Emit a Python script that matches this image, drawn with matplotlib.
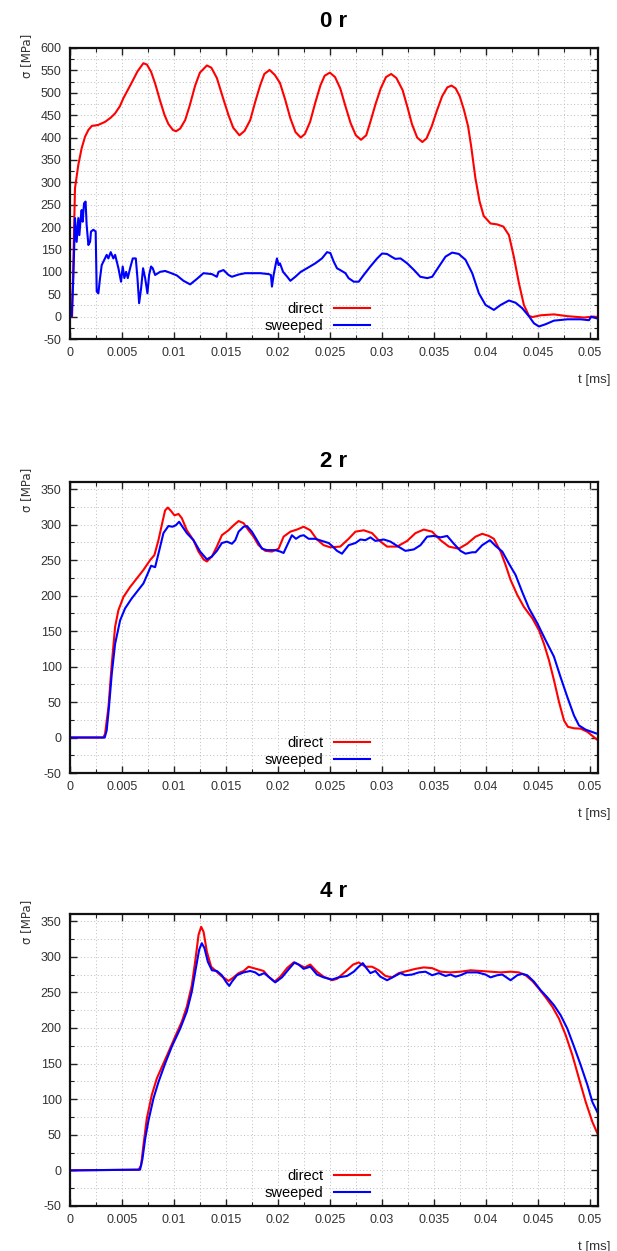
"""Stress history sigma(t) at 0 r, 2 r and 4 r: direct vs sweeped mesh."""
import matplotlib
matplotlib.use("Agg")
import matplotlib.pyplot as plt
import numpy as np
from matplotlib.ticker import FixedLocator, MultipleLocator

plt.rcParams["font.family"] = ["Liberation Sans", "DejaVu Sans"]
plt.rcParams["axes.unicode_minus"] = False

TITLES = ["0 r", "2 r", "4 r"]
SERIES = ["direct", "sweeped"]
X_TICKS = [0, 0.005, 0.01, 0.015, 0.02, 0.025, 0.03, 0.035, 0.04, 0.045, 0.05]
X_LABELS = ["0", "0.005", "0.01", "0.015", "0.02", "0.025", "0.03", "0.035",
            "0.04", "0.045", "0.05"]
Y_TOPS = [600, 350, 350]

# (t [ms], sigma [MPa])
direct_0 = np.array([
    (0, 0), (0.0002, 0), (0.00035, 150), (0.00048, 287), (0.0008, 339),
    (0.00112, 376), (0.00145, 402), (0.00177, 417), (0.0021, 426), (0.0027, 428),
    (0.00337, 435), (0.0039, 444), (0.00434, 454), (0.0048, 470), (0.00514, 488),
    (0.0059, 521), (0.0065, 548), (0.00706, 566), (0.0074, 563), (0.0078, 547),
    (0.0082, 520), (0.00867, 482), (0.0091, 450), (0.00947, 430), (0.0099, 417),
    (0.0102, 414), (0.0106, 420), (0.01108, 439), (0.0115, 470), (0.01204, 516),
    (0.0125, 545), (0.01317, 561), (0.0136, 556), (0.01413, 533), (0.0147, 490),
    (0.01525, 450), (0.0157, 422), (0.0163, 405), (0.0168, 415), (0.01734, 439),
    (0.0178, 478), (0.0183, 517), (0.0187, 542), (0.0192, 551), (0.0197, 540),
    (0.0202, 522), (0.0207, 485), (0.0212, 443), (0.0217, 412), (0.0222, 400),
    (0.0226, 408), (0.0231, 435), (0.0236, 478), (0.0241, 517), (0.0245, 538),
    (0.025, 545), (0.0255, 535), (0.026, 510), (0.0265, 470), (0.027, 432),
    (0.0275, 405), (0.028, 395), (0.0285, 405), (0.0289, 435), (0.0294, 475),
    (0.0299, 510), (0.0304, 535), (0.0309, 542), (0.0314, 533), (0.032, 506),
    (0.0325, 465), (0.0329, 430), (0.0334, 400), (0.0339, 390), (0.0343, 398),
    (0.0348, 425), (0.0353, 460), (0.0358, 492), (0.0363, 512), (0.0367, 516),
    (0.0371, 510), (0.0375, 492), (0.0379, 462), (0.0383, 425), (0.0386, 380),
    (0.039, 310), (0.0394, 258), (0.0398, 225), (0.04046, 208), (0.0411, 206),
    (0.0417, 201), (0.04223, 182), (0.0427, 134), (0.0432, 74), (0.04367, 26),
    (0.04415, 2), (0.04448, -1), (0.0453, 3), (0.04656, 5), (0.04785, 1),
    (0.04945, -2), (0.0504, 0), (0.0508, -1),
])
sweeped_0 = np.array([
    (0, 0), (0.00016, 0), (0.00032, 86), (0.00048, 220), (0.00064, 167),
    (0.0008, 220), (0.0009, 182), (0.00103, 220), (0.00112, 238), (0.00122, 212),
    (0.00135, 253), (0.0015, 257), (0.0016, 205), (0.00177, 160), (0.00193, 167),
    (0.00202, 190), (0.00225, 194), (0.00247, 190), (0.00257, 56), (0.00273, 52),
    (0.00289, 86), (0.00305, 115), (0.0033, 127), (0.00353, 138), (0.00369, 130),
    (0.00392, 144), (0.00417, 130), (0.00434, 138), (0.00466, 108), (0.00491, 78),
    (0.00507, 112), (0.00523, 86), (0.0054, 100), (0.00556, 86), (0.00578, 108),
    (0.00604, 130), (0.00633, 130), (0.00649, 86), (0.00665, 30), (0.00684, 63),
    (0.00703, 108), (0.00723, 86), (0.00745, 52), (0.00761, 93), (0.0078, 112),
    (0.00796, 108), (0.00819, 93), (0.00867, 100), (0.00915, 102), (0.00963, 98),
    (0.01028, 92), (0.01092, 80), (0.01156, 72), (0.0122, 84), (0.01284, 97),
    (0.01365, 95), (0.01413, 89), (0.01429, 100), (0.01477, 104), (0.01525, 93),
    (0.01558, 89), (0.01622, 94), (0.01686, 97), (0.01734, 97), (0.0183, 97),
    (0.0191, 95), (0.01933, 93), (0.01943, 67), (0.01959, 93), (0.01981, 119),
    (0.01991, 130), (0.02007, 115), (0.0202, 119), (0.0205, 100), (0.0209, 89),
    (0.0212, 80), (0.02168, 89), (0.0222, 100), (0.0228, 108), (0.0236, 119),
    (0.02424, 130), (0.02473, 144), (0.02505, 142), (0.02537, 123), (0.02569, 108),
    (0.026, 104), (0.0265, 97), (0.0268, 86), (0.0273, 78), (0.02778, 78),
    (0.02826, 93), (0.0289, 112), (0.02955, 130), (0.03003, 141), (0.0305, 140),
    (0.03099, 133), (0.0313, 129), (0.0318, 130), (0.03244, 119), (0.0331, 104),
    (0.0337, 89), (0.03437, 86), (0.03485, 89), (0.0355, 112), (0.03613, 134),
    (0.03677, 143), (0.0374, 140), (0.03805, 127), (0.0387, 97), (0.03934, 52),
    (0.03998, 26), (0.04078, 15), (0.04143, 26), (0.04223, 36), (0.04287, 31),
    (0.0435, 19), (0.04415, 1), (0.04464, -15), (0.04512, -22), (0.04576, -17),
    (0.04656, -9), (0.04785, -6), (0.04913, -6), (0.04993, -8), (0.05016, 0),
    (0.0504, -2), (0.0507, -4),
])

direct_2 = np.array([
    (0, 0), (0.0032, 0), (0.00337, 5), (0.0037, 43), (0.00402, 104),
    (0.00434, 156), (0.00465, 179), (0.00514, 198), (0.00578, 212), (0.00642, 224),
    (0.00706, 236), (0.00771, 250), (0.00812, 257), (0.00851, 278), (0.00893, 306),
    (0.00915, 320), (0.00941, 324), (0.00973, 319), (0.01005, 313), (0.01044, 315),
    (0.01076, 309), (0.01124, 292), (0.01188, 278), (0.01236, 262), (0.01285, 251),
    (0.01317, 248), (0.01365, 255), (0.01413, 269), (0.01461, 285), (0.01525, 292),
    (0.01574, 299), (0.01622, 305), (0.0167, 302), (0.01718, 292), (0.01766, 283),
    (0.01814, 271), (0.01879, 263), (0.01943, 262), (0.02007, 266), (0.02055, 283),
    (0.0212, 290), (0.02184, 293), (0.02248, 297), (0.02312, 292), (0.02376, 279),
    (0.0244, 271), (0.02505, 268), (0.026, 269), (0.02681, 280), (0.02746, 290),
    (0.02826, 292), (0.02906, 288), (0.0297, 278), (0.03051, 269), (0.03147, 269),
    (0.03244, 277), (0.03324, 288), (0.03404, 293), (0.03484, 290), (0.03565, 278),
    (0.03645, 269), (0.0374, 266), (0.03821, 273), (0.03902, 283), (0.03966, 287),
    (0.0403, 284), (0.04078, 280), (0.04143, 262), (0.04191, 243), (0.04239, 222),
    (0.04303, 201), (0.04367, 184), (0.04448, 168), (0.04512, 151), (0.0456, 132),
    (0.04608, 109), (0.04656, 81), (0.04705, 50), (0.04753, 24), (0.04791, 15),
    (0.04849, 13), (0.04913, 12.5), (0.04978, 8), (0.05058, -1.5), (0.0508, -4),
])
sweeped_2 = np.array([
    (0, 0), (0.00334, 0), (0.00353, 10), (0.00375, 43), (0.00402, 90),
    (0.00434, 132), (0.00482, 165), (0.0053, 182), (0.00594, 196), (0.00658, 208),
    (0.00706, 217), (0.00748, 231), (0.0078, 242), (0.00819, 240), (0.00851, 259),
    (0.00899, 288), (0.00947, 298), (0.00986, 297), (0.01018, 299), (0.0105, 304),
    (0.01082, 297), (0.01124, 288), (0.01188, 278), (0.01252, 262), (0.01317, 251),
    (0.01365, 255), (0.01413, 263), (0.01461, 274), (0.0151, 276), (0.01558, 273),
    (0.0159, 278), (0.01622, 290), (0.0167, 297), (0.01702, 298), (0.0175, 290),
    (0.01799, 278), (0.01847, 266), (0.01895, 264), (0.01975, 264), (0.02023, 262),
    (0.02055, 260), (0.02096, 273), (0.02135, 285), (0.02174, 280), (0.02216, 284),
    (0.02248, 285), (0.02296, 280), (0.0236, 280), (0.02424, 277), (0.02489, 274),
    (0.02521, 270), (0.02569, 263), (0.02617, 259), (0.02681, 271), (0.02746, 274),
    (0.02794, 279), (0.02842, 278), (0.0289, 282), (0.02938, 277), (0.03019, 279),
    (0.03083, 276), (0.03147, 270), (0.03227, 263), (0.03308, 265), (0.03372, 271),
    (0.03436, 283), (0.035, 284), (0.03565, 282), (0.03629, 284), (0.03693, 273),
    (0.03757, 263), (0.03805, 259), (0.0387, 261), (0.03902, 261), (0.03966, 271),
    (0.0404, 278), (0.04094, 270), (0.04159, 262), (0.04223, 245), (0.04287, 229),
    (0.04351, 205), (0.04416, 182), (0.04496, 161), (0.04576, 137), (0.04656, 114),
    (0.0472, 85), (0.04785, 57), (0.04849, 31), (0.04897, 17), (0.04962, 11),
    (0.05058, 6), (0.0508, 5),
])

direct_4 = np.array([
    (0, 0), (0.0066, 1), (0.00684, 7), (0.00706, 35), (0.00739, 73),
    (0.00787, 106), (0.00835, 129), (0.00883, 145), (0.00947, 166), (0.01012, 188),
    (0.01076, 209), (0.01124, 230), (0.01172, 260), (0.01204, 293), (0.01237, 331),
    (0.01262, 342), (0.01285, 335), (0.01317, 307), (0.01358, 286), (0.01403, 280),
    (0.01455, 273), (0.01525, 266), (0.01574, 271), (0.01622, 277), (0.0167, 280),
    (0.01718, 286), (0.01766, 284), (0.01815, 282), (0.01863, 280), (0.01911, 272),
    (0.01968, 265), (0.02023, 272), (0.02088, 284), (0.02151, 292), (0.022, 289),
    (0.02257, 285), (0.02312, 289), (0.02376, 279), (0.0244, 272), (0.02521, 267),
    (0.02569, 269), (0.02649, 279), (0.02724, 289), (0.02778, 292), (0.02842, 286),
    (0.02906, 286), (0.0297, 281), (0.03035, 273), (0.03099, 271), (0.03163, 277),
    (0.03244, 280), (0.03324, 283), (0.03404, 285), (0.03484, 284), (0.03565, 279),
    (0.03661, 278), (0.03757, 279), (0.03854, 281), (0.0395, 280), (0.04046, 279),
    (0.04143, 278), (0.04239, 279), (0.04319, 278), (0.04383, 274), (0.04448, 266),
    (0.04512, 255), (0.04576, 243), (0.0464, 230), (0.04705, 213), (0.04769, 190),
    (0.04833, 162), (0.04897, 129), (0.04962, 96), (0.05026, 68), (0.0508, 50),
])
sweeped_4 = np.array([
    (0, 0), (0.00674, 1), (0.00697, 16), (0.00723, 44), (0.00755, 70),
    (0.00803, 101), (0.00851, 124), (0.00915, 150), (0.0098, 174), (0.0106, 199),
    (0.01124, 223), (0.01172, 251), (0.01211, 284), (0.01243, 310), (0.01268, 319),
    (0.01294, 312), (0.01326, 293), (0.01365, 281), (0.01413, 280), (0.01461, 274),
    (0.015, 265), (0.01532, 259), (0.01558, 265), (0.01606, 274), (0.0167, 278),
    (0.01734, 280), (0.01782, 278), (0.0182, 274), (0.01869, 277), (0.01917, 271),
    (0.01975, 264), (0.02039, 271), (0.02096, 281), (0.02161, 292), (0.022, 289),
    (0.02248, 283), (0.02312, 286), (0.02376, 275), (0.0244, 271), (0.02521, 268),
    (0.02585, 271), (0.02666, 273), (0.0273, 279), (0.02778, 286), (0.02817, 291),
    (0.02852, 284), (0.0289, 277), (0.02938, 280), (0.02986, 272), (0.03051, 267),
    (0.03115, 272), (0.03179, 277), (0.03227, 274), (0.03292, 275), (0.03356, 278),
    (0.0342, 279), (0.03484, 274), (0.03548, 277), (0.03613, 273), (0.03661, 275),
    (0.03709, 272), (0.03757, 274), (0.03821, 278), (0.03918, 278), (0.03998, 275),
    (0.04046, 271), (0.0411, 274), (0.04159, 275), (0.04239, 267), (0.04303, 274),
    (0.04351, 276), (0.04399, 274), (0.04464, 265), (0.04528, 253), (0.04592, 243),
    (0.04656, 232), (0.0472, 218), (0.04785, 199), (0.04849, 174), (0.04913, 148),
    (0.04978, 120), (0.05026, 96), (0.0508, 80),
])

CURVES = [(direct_0, sweeped_0), (direct_2, sweeped_2), (direct_4, sweeped_4)]
COLORS = ["#ff0000", "#0000ff"]

W, H = 617, 1251
# axes boxes in pixels: (left, top, right, bottom)
BOXES = [(70, 48, 598, 339), (70, 482, 598, 773), (70, 914, 598, 1206)]
TITLE_PADS = [15, 11, 12]

fig = plt.figure(figsize=(W / 100, H / 100), dpi=100)

for k, (l, t, r, b) in enumerate(BOXES):
    ax = fig.add_axes([l / W, 1 - b / H, (r - l) / W, (b - t) / H])
    for data, name, col in zip(CURVES[k], SERIES, COLORS):
        ax.plot(data[:, 0], data[:, 1], color=col, lw=1.5, label=name)

    ax.set_xlim(0, 0.0508)
    ax.set_ylim(-50, Y_TOPS[k] + (10 if k else 0))
    ax.xaxis.set_major_locator(FixedLocator(X_TICKS))
    ax.set_xticklabels(X_LABELS)
    ax.xaxis.set_minor_locator(MultipleLocator(0.0025))
    ax.yaxis.set_major_locator(MultipleLocator(50))
    ax.yaxis.set_minor_locator(MultipleLocator(25))
    ax.tick_params(which="both", direction="in", top=True, right=True,
                   labelsize=9, colors="#222222", labelcolor="#333333")
    ax.tick_params(which="major", length=5, width=1, pad=6)
    ax.tick_params(which="minor", length=3, width=0.8)
    ax.grid(which="both", color="#bdbdbd", linestyle=(0, (1, 2.5)), lw=0.7)
    for sp in ax.spines.values():
        sp.set_linewidth(1.6)
        sp.set_color("#111111")

    ax.set_title(TITLES[k], fontsize=16, fontweight="bold", pad=TITLE_PADS[k])
    ax.text(-0.083, 1.05, "σ [MPa]", transform=ax.transAxes, rotation=90,
            ha="center", va="top", fontsize=8.5, color="#333333",
            family=["DejaVu Sans"])
    ax.text(0.992, -0.14, "t [ms]", transform=ax.transAxes, ha="center",
            va="center", fontsize=9.5, color="#333333")

    ax.legend(loc="lower right", bbox_to_anchor=(0.58, 0.0), frameon=False,
              markerfirst=False, fontsize=10.5, handlelength=2.5,
              handletextpad=0.7, labelspacing=0.2, borderaxespad=0.2,
              borderpad=0.2)

fig.savefig("out.png", dpi=100)
